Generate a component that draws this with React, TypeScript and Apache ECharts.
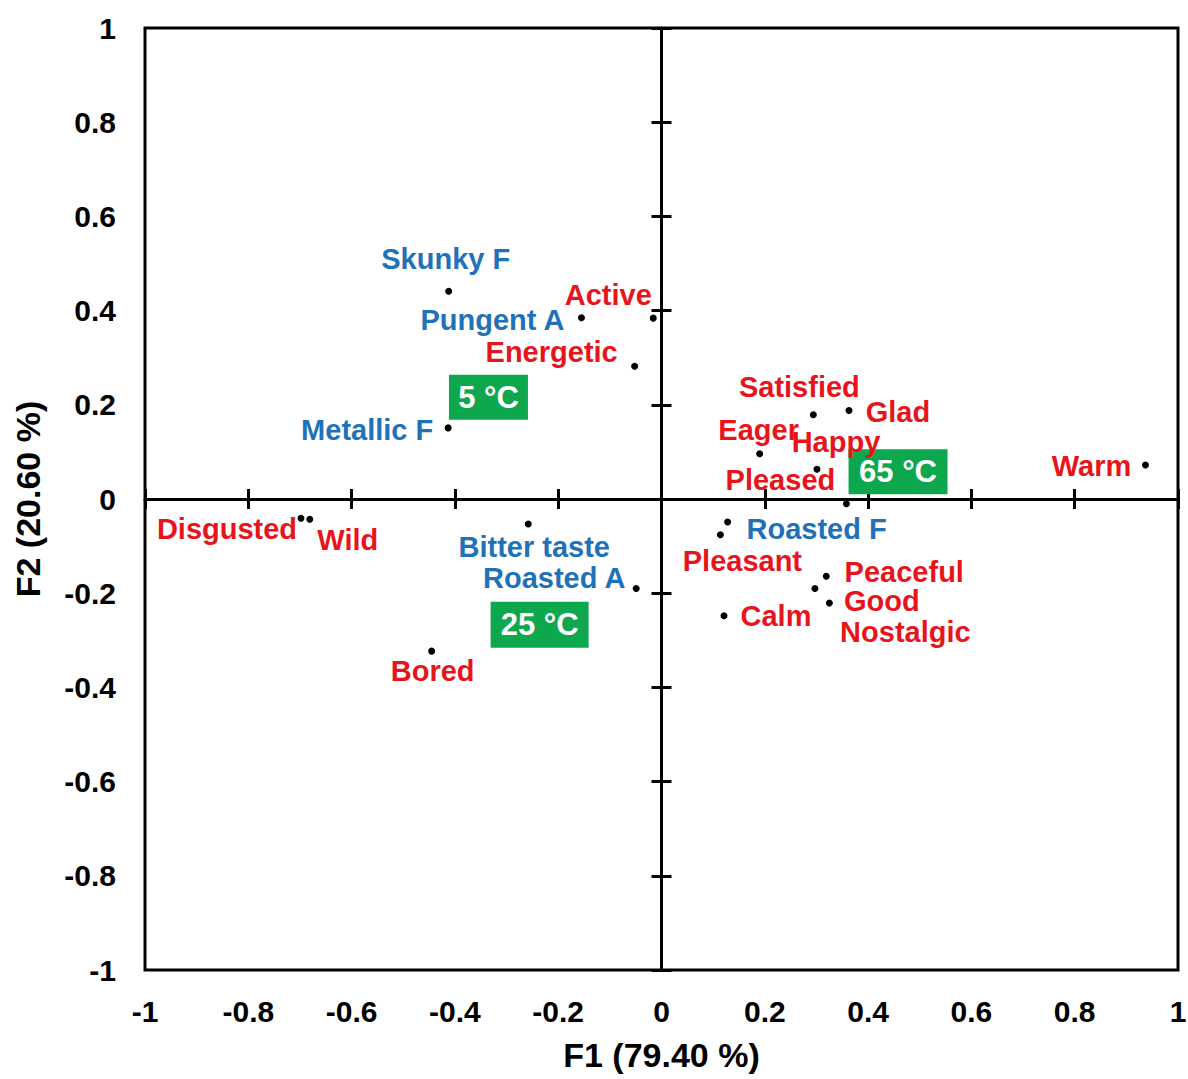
import React, { useEffect, useRef } from "react";
import * as echarts from "echarts";

// ---- Data ----
const pointNames = [
  "Skunky F", "Pungent A", "Active", "Energetic", "Metallic F",
  "Satisfied", "Glad", "Eager", "Happy", "Pleased", "Warm",
  "Disgusted", "Wild", "Bitter taste", "Roasted A", "Bored",
  "Roasted F", "Pleasant", "Peaceful", "Good", "Nostalgic", "Calm",
];
const f1Values = [
  -0.412, -0.155, -0.016, -0.052, -0.413,
  0.294, 0.363, 0.19, 0.301, 0.358, 0.937,
  -0.698, -0.681, -0.258, -0.049, -0.445,
  0.128, 0.114, 0.319, 0.297, 0.325, 0.121,
];
const f2Values = [
  0.441, 0.385, 0.384, 0.282, 0.151,
  0.179, 0.188, 0.096, 0.063, -0.01, 0.072,
  -0.041, -0.043, -0.053, -0.19, -0.323,
  -0.049, -0.076, -0.164, -0.19, -0.221, -0.248,
];
// "b" = sensory attribute (blue), "r" = emotion (red)
const pointKinds = [
  "b", "b", "r", "r", "b",
  "r", "r", "r", "r", "r", "r",
  "r", "r", "b", "b", "r",
  "b", "r", "r", "r", "r", "r",
];

const tempNames = ["5 °C", "25 °C", "65 °C"];
const tempF1 = [-0.335, -0.236, 0.458];
const tempF2 = [0.216, -0.267, 0.058];

const xTitle = "F1 (79.40 %)";
const yTitle = "F2 (20.60 %)";

// ---- Styling (positions of labels relative to their points, in px) ----
const labelOffsets: number[][] = [
  [-3, -32], [-89, 2], [-45, -23], [-83, -14], [-81, 2],
  [-14, -28], [49, 2], [-1, -24], [19, -27], [-66, -24], [-54, 1],
  [-74, 11], [38, 21], [6, 23], [-82, -10], [1, 20],
  [89, 7], [22, 26], [78, -4], [67, 13], [76, 29], [52, 0],
];
const tempBoxSizes: number[][] = [[79, 45], [98, 46], [99, 45]];

const FONT = '"Liberation Sans", Arial, Helvetica, sans-serif';
const RED = "#E8141B";
const BLUE = "#1F72B8";
const GREEN = "#0DA84E";

export default function App() {
  const ref = useRef<HTMLDivElement>(null);

  useEffect(() => {
    if (!ref.current) return;
    const chart = echarts.init(ref.current, undefined, { renderer: "svg" });

    const common = { min: -1, max: 1, interval: 0.2, type: "value" as const };
    const lineAxisBase = (inside: boolean, showLine: boolean) => ({
      ...common,
      axisLine: {
        show: showLine,
        onZero: true,
        onZeroAxisIndex: 0,
        lineStyle: { color: "#000", width: 3 },
      },
      axisTick: { show: true, inside, length: 10, lineStyle: { color: "#000", width: 3 } },
      axisLabel: { show: false },
      splitLine: { show: false },
    });

    const labelAxisBase = {
      ...common,
      axisLine: { show: false, onZero: false },
      axisTick: { show: false },
      splitLine: { show: false },
    };

    const pointData = pointNames.map((name, i) => ({
      name,
      value: [f1Values[i], f2Values[i]],
      label: {
        show: true,
        position: "inside",
        offset: labelOffsets[i],
        formatter: name,
        color: pointKinds[i] === "b" ? BLUE : RED,
        opacity: 1,
        fontFamily: FONT,
        fontWeight: "bold",
        fontSize: 29,
      },
    }));

    const tempData = tempNames.map((name, i) => ({
      name,
      value: [tempF1[i], tempF2[i]],
      symbolSize: tempBoxSizes[i],
    }));

    chart.setOption({
      animation: false,
      backgroundColor: "#fff",
      grid: {
        left: 145,
        top: 28,
        width: 1033,
        height: 942,
        containLabel: false,
        outerBoundsMode: "none",
        show: true,
        borderColor: "#000",
        borderWidth: 3,
        backgroundColor: "transparent",
      },
      xAxis: [
        { ...lineAxisBase(false, true), position: "bottom" },
        { ...lineAxisBase(true, false), position: "bottom" },
        {
          ...labelAxisBase,
          position: "bottom",
          axisLabel: {
            show: true,
            margin: 26,
            color: "#000",
            fontFamily: FONT,
            fontWeight: "bold",
            fontSize: 30,
          },
          name: xTitle,
          nameLocation: "middle",
          nameGap: 68,
          nameTextStyle: { color: "#000", fontFamily: FONT, fontWeight: "bold", fontSize: 34 },
        },
      ],
      yAxis: [
        { ...lineAxisBase(false, true), position: "left" },
        { ...lineAxisBase(true, false), position: "left" },
        {
          ...labelAxisBase,
          position: "left",
          axisLabel: {
            show: true,
            margin: 29,
            color: "#000",
            fontFamily: FONT,
            fontWeight: "bold",
            fontSize: 30,
          },
          name: yTitle,
          nameLocation: "middle",
          nameGap: 100,
          nameRotate: 90,
          nameTextStyle: { color: "#000", fontFamily: FONT, fontWeight: "bold", fontSize: 34 },
        },
      ],
      series: [
        {
          type: "scatter",
          xAxisIndex: 0,
          yAxisIndex: 0,
          symbol: "rect",
          itemStyle: { color: GREEN, opacity: 1 },
          data: tempData,
          z: 2,
          label: {
            show: true,
            position: "inside",
            formatter: "{b}",
            color: "#fff",
            opacity: 1,
            fontFamily: FONT,
            fontWeight: "bold",
            fontSize: 31,
          },
        },
        {
          type: "scatter",
          xAxisIndex: 0,
          yAxisIndex: 0,
          symbol: "circle",
          symbolSize: 7,
          itemStyle: { color: "#000", opacity: 1 },
          data: pointData,
          z: 3,
        },
      ],
    });

    return () => chart.dispose();
  }, []);

  return (
    <div
      ref={ref}
      style={{ position: "fixed", left: 0, top: 0, width: 1188, height: 1079, background: "#fff" }}
    />
  );
}
